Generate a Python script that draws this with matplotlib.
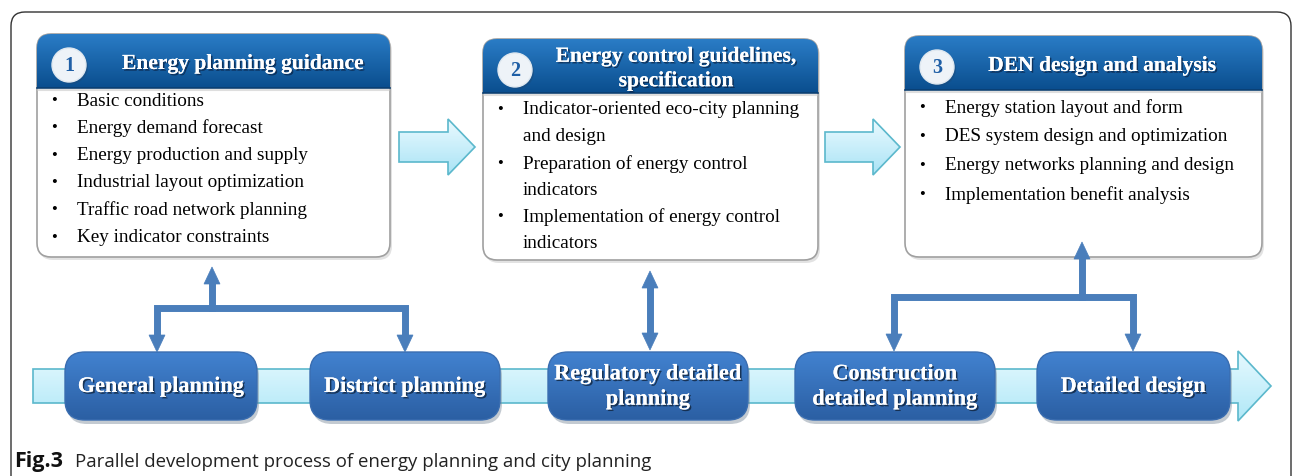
import numpy as np
import matplotlib.pyplot as plt
from matplotlib.patches import FancyBboxPatch, Polygon, Circle
from matplotlib.colors import LinearSegmentedColormap
import matplotlib.patheffects as pe

# content
titles = ["Energy planning guidance", "Energy control guidelines,\nspecification", "DEN design and analysis"]
numbers = ["1", "2", "3"]
bullets = [
    ["Basic conditions", "Energy demand forecast", "Energy production and supply",
     "Industrial layout optimization", "Traffic road network planning", "Key indicator constraints"],
    ["Indicator-oriented eco-city planning\nand design", "Preparation of energy control\nindicators",
     "Implementation of energy control\nindicators"],
    ["Energy station layout and form", "DES system design and optimization",
     "Energy networks planning and design", "Implementation benefit analysis"],
]
stages = ["General planning", "District planning", "Regulatory detailed\nplanning",
          "Construction\ndetailed planning", "Detailed design"]
caption_bold = "Fig.3"
caption = "Parallel development process of energy planning and city planning"

# layout (pixels)
W, H = 1292, 476
boxes = [(37, 34, 390, 257), (483, 39, 818, 260), (905, 36, 1262, 257)]
head_h = [54, 54, 54]
title_x = [243, 676, 1102]
bullet_y0 = [101, 110, 108]
bullet_dy = [27.3, 26.8, 28.9]
pills = [(65, 257), (310, 500), (548, 748), (795, 995), (1037, 1230)]
pill_y = (352, 420)

SERIF = "Liberation Serif"
BLUE = "#4a7ebb"

fig = plt.figure(figsize=(W / 100, H / 100), dpi=100)
ax = fig.add_axes([0, 0, 1, 1])
ax.set_xlim(0, W)
ax.set_ylim(H, 0)
ax.axis("off")


def grad(patch, x0, x1, y0, y1, c_top, c_bot, z):
    cm = LinearSegmentedColormap.from_list("g", [c_top, c_bot])
    img = np.linspace(0, 1, 100).reshape(-1, 1)
    im = ax.imshow(img, cmap=cm, extent=(x0, x1, y1, y0), origin="upper",
                   aspect="auto", zorder=z, interpolation="bilinear")
    im.set_clip_path(patch)


# outer frame
ax.add_patch(FancyBboxPatch((11, 12), 1280, 520, boxstyle="round,pad=0,rounding_size=14",
                            fc="white", ec="#333333", lw=1.0, zorder=0))

# big light arrows between boxes
for x0, x1 in [(399, 475), (825, 900)]:
    xh = x1 - 27
    pts = [(x0, 132), (xh, 132), (xh, 119), (x1, 147), (xh, 175), (xh, 162), (x0, 162)]
    poly = Polygon(pts, closed=True, fc="none", ec="#5bb8cc", lw=1.2, zorder=3)
    ax.add_patch(poly)
    grad(poly, x0, x1, 119, 175, "#eafaff", "#a9e3f5", 2)

# panels
for i, (x0, y0, x1, y1) in enumerate(boxes):
    shadow = FancyBboxPatch((x0 + 2, y0 + 3), x1 - x0, y1 - y0, boxstyle="round,pad=0,rounding_size=14",
                            fc="#d0d0d0", ec="none", zorder=1, alpha=0.6)
    ax.add_patch(shadow)
    box = FancyBboxPatch((x0, y0), x1 - x0, y1 - y0, boxstyle="round,pad=0,rounding_size=14",
                         fc="white", ec="#a0a0a0", lw=1.2, zorder=2)
    ax.add_patch(box)
    hy = y0 + head_h[i]
    grad(box, x0, x1, y0, hy, "#2a7cc6", "#0a4e8e", 3)
    ax.plot([x0, x1], [hy, hy], color="#0a3e70", lw=1.2, zorder=4)
    ax.plot([x0 + 1, x1 - 1], [hy + 2, hy + 2], color="#c8c8c8", lw=1.5, zorder=4, alpha=0.6)
    cx, cy = x0 + 32, y0 + 31
    ax.add_patch(Circle((cx + 2, cy + 2), 17, fc="#1a4a7a", ec="none", alpha=0.5, zorder=4))
    ax.add_patch(Circle((cx, cy), 17, fc="#eef3f8", ec="#dfe8f0", lw=1, zorder=5))
    ax.text(cx, cy + 1, numbers[i], ha="center", va="center", fontsize=14.5, fontweight="bold",
            family=SERIF, color="#1f5fa6", zorder=6)
    ax.text(title_x[i], y0 + 30, titles[i], ha="center", va="center", fontsize=15.5, fontweight="bold",
            family=SERIF, color="white", zorder=6, linespacing=1.3,
            path_effects=[pe.withSimplePatchShadow(offset=(1.2, -1.2), shadow_rgbFace="#0a2040", alpha=0.7),
                          pe.Normal()])
    # bullets, one text per line so the spacing stays even
    line = 0
    for item in bullets[i]:
        for k, part in enumerate(item.split("\n")):
            y = bullet_y0[i] + line * bullet_dy[i]
            if k == 0:
                ax.text(x0 + 17, y, "\u2022", ha="center", va="center", fontsize=12, family=SERIF,
                        color="black", zorder=6)
            ax.text(x0 + 40, y, part, ha="left", va="center", fontsize=13.8, family=SERIF,
                    color="black", zorder=6)
            line += 1

# bottom band with arrow
band = Polygon([(33, 369), (1238, 369), (1238, 351), (1271, 386), (1238, 421), (1238, 403), (33, 403)],
               closed=True, fc="none", ec="#5bb8cc", lw=1.2, zorder=3)
ax.add_patch(band)
grad(band, 33, 1271, 351, 421, "#e6f9ff", "#b0e8f7", 2)

# stage pills
for (x0, x1), label in zip(pills, stages):
    y0, y1 = pill_y
    ax.add_patch(FancyBboxPatch((x0 + 2, y0 + 4), x1 - x0, y1 - y0, boxstyle="round,pad=0,rounding_size=20",
                                fc="#7a8a9a", ec="none", alpha=0.45, zorder=4))
    pill = FancyBboxPatch((x0, y0), x1 - x0, y1 - y0, boxstyle="round,pad=0,rounding_size=20",
                          fc="none", ec="#3a6db0", lw=1, zorder=6)
    ax.add_patch(pill)
    grad(pill, x0, x1, y0, y1, "#4282d0", "#2b5fa3", 5)
    ax.text((x0 + x1) / 2, (y0 + y1) / 2 + 1, label, ha="center", va="center", fontsize=16,
            fontweight="bold", family=SERIF, color="white", zorder=7, linespacing=1.35,
            path_effects=[pe.withSimplePatchShadow(offset=(1.2, -1.2), shadow_rgbFace="#10243c", alpha=0.8),
                          pe.Normal()])


# connectors
def head(x, y, d):
    # d = +1 points down, -1 points up; (x, y) is the tip
    pts = [(x, y), (x - 8, y - d * 17), (x + 8, y - d * 17)]
    ax.add_patch(Polygon(pts, closed=True, fc=BLUE, ec=BLUE, lw=0.5, zorder=6))


lw = 5
# left group
ax.plot([157, 157, 405, 405], [336, 308, 308, 336], color=BLUE, lw=lw, solid_joinstyle="miter", zorder=5)
ax.plot([212, 212], [308, 284], color=BLUE, lw=lw, zorder=5)
head(157, 352, 1)
head(405, 352, 1)
head(212, 267, -1)
# middle double arrow
ax.plot([650, 650], [288, 334], color=BLUE, lw=lw, zorder=5)
head(650, 271, -1)
head(650, 350, 1)
# right group
ax.plot([894, 894, 1133, 1133], [335, 297, 297, 335], color=BLUE, lw=lw, solid_joinstyle="miter", zorder=5)
ax.plot([1082, 1082], [297, 259], color=BLUE, lw=lw, zorder=5)
head(894, 351, 1)
head(1133, 351, 1)
head(1082, 242, -1)

# caption
ax.text(14, 462, caption_bold, ha="left", va="center", fontsize=15.5, fontweight="bold",
        family="Open Sans", color="#111111")
ax.text(75, 462, caption, ha="left", va="center", fontsize=13.4, family="Open Sans", color="#222222")

ax.set_xlim(0, W)
ax.set_ylim(H, 0)
fig.savefig("out.png", dpi=100)
